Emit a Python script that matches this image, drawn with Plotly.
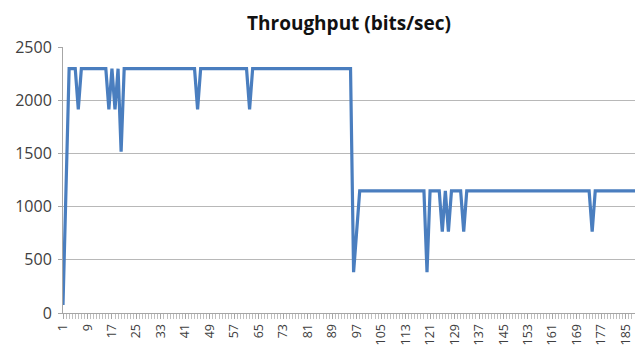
import plotly.graph_objects as go

# Throughput per sample, bits/sec (samples numbered from 1)
HIGH = 2296
LOW = 1148
samples = list(range(1, 189))
throughput = [HIGH] * 95 + [LOW] * 93

# start-up ramp
throughput[0] = 75
throughput[1] = 1148
# short dips while at the high rate
for s, v in [(6, 1913), (16, 1913), (18, 1913), (20, 1516), (45, 1913), (62, 1913)]:
    throughput[s - 1] = v
# rate drop and dips at the low rate
for s, v in [(96, 383), (97, 765), (120, 383), (125, 765), (127, 765), (132, 765), (174, 765)]:
    throughput[s - 1] = v

tick_vals = list(range(1, 189, 8))
tick_text = [str(v) for v in tick_vals]
y_ticks = [0, 500, 1000, 1500, 2000, 2500]

fig = go.Figure()
fig.add_trace(go.Scatter(
    x=samples, y=throughput, mode="lines",
    line=dict(color="#4a7ebf", width=3.2),
    hoverinfo="x+y",
))

fig.update_layout(
    width=635, height=354,
    margin=dict(l=63, r=0, t=47, b=41),
    paper_bgcolor="white", plot_bgcolor="white",
    showlegend=False,
    font=dict(family="Open Sans, Arial, sans-serif", color="#404040"),
    title=dict(
        text="<b>Throughput (bits/sec)</b>",
        x=0.5, xref="paper", xanchor="center",
        y=0.935, yref="container", yanchor="middle",
        font=dict(size=19, color="#111111", family="Open Sans, Arial, sans-serif"),
    ),
    xaxis=dict(
        range=[1, 188], tickmode="array", tickvals=tick_vals, ticktext=tick_text,
        tickangle=-90, tickfont=dict(size=12.5, color="#404040"),
        ticks="outside", ticklen=5, tickcolor="#a6a6a6", tickwidth=1,
        minor=dict(dtick=1, tick0=1, ticks="outside", ticklen=5,
                   tickcolor="#bfbfbf", tickwidth=1, showgrid=False),
        showgrid=False, showline=True, linecolor="#a6a6a6", linewidth=1,
        zeroline=False,
    ),
    yaxis=dict(
        range=[0, 2500], tickmode="array", tickvals=y_ticks,
        ticktext=[str(v) for v in y_ticks],
        tickfont=dict(size=16, color="#404040"),
        ticks="outside", ticklen=4, tickcolor="#a6a6a6",
        ticklabelstandoff=3,
        showgrid=True, gridcolor="#b8b8b8", gridwidth=1,
        showline=True, linecolor="#a6a6a6", linewidth=1,
        zeroline=False,
    ),
)

fig.write_html("out.html")
